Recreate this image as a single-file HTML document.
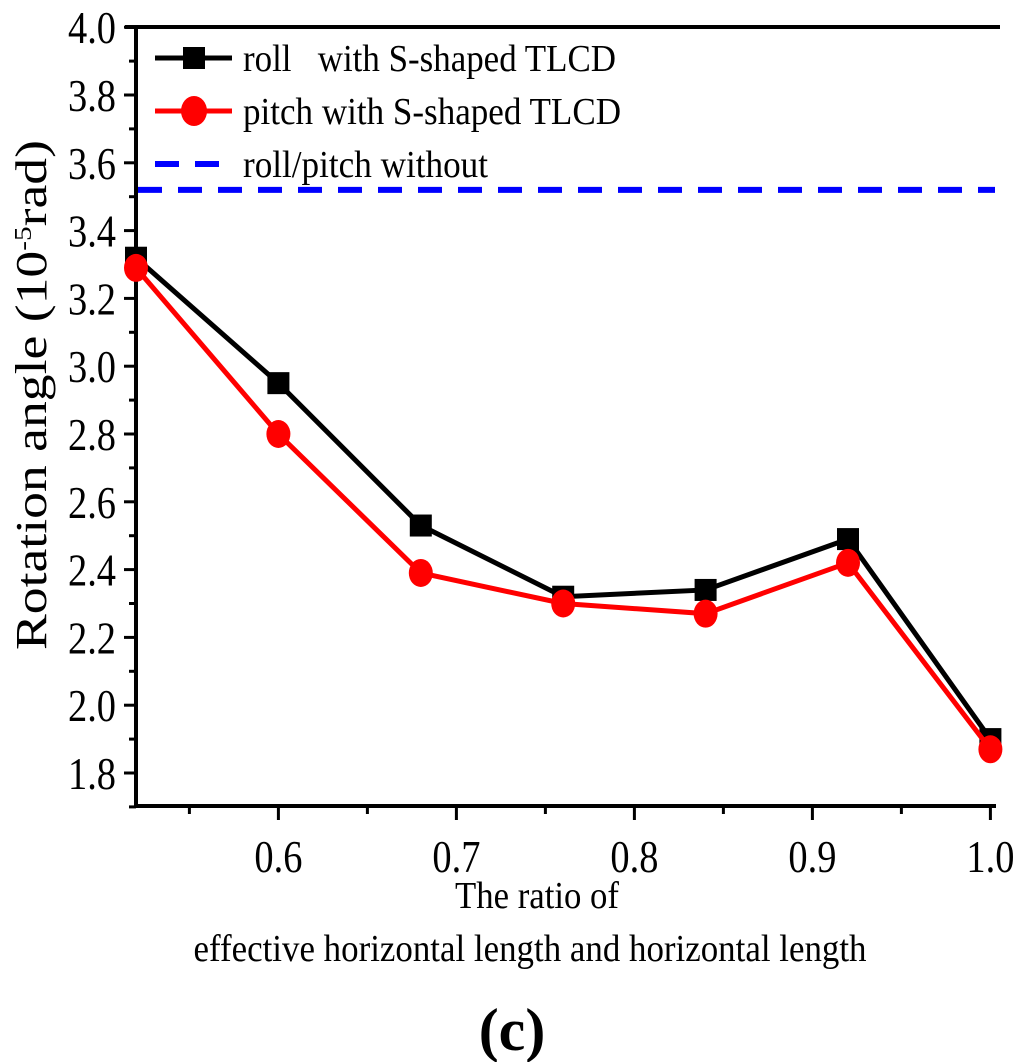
<!DOCTYPE html>
<html><head><meta charset="utf-8"><style>body{margin:0;background:#fff}svg{display:block}text{font-family:"Liberation Serif","Times New Roman",serif}</style></head>
<body>
<svg id="chart" width="1024" height="1062" xmlns="http://www.w3.org/2000/svg" font-family="Liberation Serif, Times New Roman, serif">
<g id="axes"></g>
<g id="series"></g>
<g id="legend">
 <line x1="155" y1="58" x2="232" y2="58" stroke="#000" stroke-width="5"/>
 <rect x="183" y="47" width="22" height="22" fill="#000"/>
 <text x="243" y="71" font-size="38" textLength="373" lengthAdjust="spacingAndGlyphs">roll&#160;&#160;&#160;with S-shaped TLCD</text>
 <line x1="155" y1="111" x2="232" y2="111" stroke="#f00" stroke-width="5"/>
 <ellipse cx="194" cy="111" rx="13" ry="15" fill="#f00"/>
 <text x="243" y="124" font-size="38" textLength="378" lengthAdjust="spacingAndGlyphs">pitch with S-shaped TLCD</text>
 <line x1="155" y1="164" x2="232" y2="164" stroke="#00f" stroke-width="6" stroke-dasharray="24,16"/>
 <text x="243" y="177" font-size="38" textLength="245" lengthAdjust="spacingAndGlyphs">roll/pitch without</text>
</g>
<text x="537" y="908" font-size="38" text-anchor="middle" textLength="164" lengthAdjust="spacingAndGlyphs">The ratio of</text>
<text x="530" y="961" font-size="38" text-anchor="middle" textLength="673" lengthAdjust="spacingAndGlyphs">effective horizontal length and horizontal length</text>
<text transform="translate(46,395) rotate(-90)" font-size="44" text-anchor="middle" textLength="510" lengthAdjust="spacingAndGlyphs">Rotation angle (10<tspan font-size="24" dy="-15">-5</tspan><tspan dy="15">rad)</tspan></text>
<text x="512" y="1050" font-size="60" font-weight="bold" text-anchor="middle">(c)</text>
</svg>
<script>
const xs=[0.52,0.6,0.68,0.76,0.84,0.92,1.0];
const roll=[3.32,2.95,2.53,2.32,2.34,2.49,1.90];
const pitch=[3.29,2.80,2.39,2.30,2.27,2.42,1.87];
const withoutVal=[3.52];
const xTicks=[0.6,0.7,0.8,0.9,1.0];
const yTicks=[1.8,2.0,2.2,2.4,2.6,2.8,3.0,3.2,3.4,3.6,3.8,4.0];
const X=v=>136+(v-0.52)*1780;
const Y=v=>773-(v-1.8)*339;
const NS="http://www.w3.org/2000/svg";
function mk(p,t,a){const e=document.createElementNS(NS,t);for(const k in a)e.setAttribute(k,a[k]);p.appendChild(e);return e;}
const ax=document.getElementById('axes'),se=document.getElementById('series');
let e;
e=mk(ax,'line',{x1:136,y1:25,x2:136,y2:808,stroke:'#000','stroke-width':4});

e=mk(ax,'line',{x1:134,y1:806,x2:996,y2:806,stroke:'#000','stroke-width':4});

e=mk(ax,'line',{x1:125,y1:27,x2:1000,y2:27,stroke:'#000','stroke-width':4});

yTicks.forEach(v=>{const y=Y(v);
 mk(ax,'line',{x1:124,y1:y,x2:136,y2:y,stroke:'#000','stroke-width':3});
 mk(ax,'line',{x1:129,y1:Y(v-0.1),x2:136,y2:Y(v-0.1),stroke:'#000','stroke-width':3});
 e=mk(ax,'text',{x:116,y:y+16,'font-size':46,'text-anchor':'end',textLength:48,lengthAdjust:'spacingAndGlyphs'});e.textContent=v.toFixed(1);
 });
xTicks.forEach(v=>{const x=X(v);
 mk(ax,'line',{x1:x,y1:806,x2:x,y2:820,stroke:'#000','stroke-width':3});
 mk(ax,'line',{x1:X(v-0.05),y1:806,x2:X(v-0.05),y2:814,stroke:'#000','stroke-width':3});
 e=mk(ax,'text',{x:x,y:872,'font-size':46,'text-anchor':'middle',textLength:48,lengthAdjust:'spacingAndGlyphs'});e.textContent=v.toFixed(1);
 });
e=mk(se,'line',{x1:138,y1:Y(withoutVal[0]),x2:995,y2:Y(withoutVal[0]),stroke:'#00f','stroke-width':6,'stroke-dasharray':'24,16'});

function series(vals,col,name,sq){
 e=mk(se,'polyline',{points:vals.map((v,i)=>X(xs[i])+','+Y(v)).join(' '),fill:'none',stroke:col,'stroke-width':5});
 
 vals.forEach((v,i)=>{
  if(sq)e=mk(se,'rect',{x:X(xs[i])-11,y:Y(v)-11,width:22,height:22,fill:col});
  else e=mk(se,'ellipse',{cx:X(xs[i]),cy:Y(v),rx:12,ry:14,fill:col});
  });
}
series(roll,'#000','roll',true);
series(pitch,'#f00','pitch',false);
</script>
</body></html>
